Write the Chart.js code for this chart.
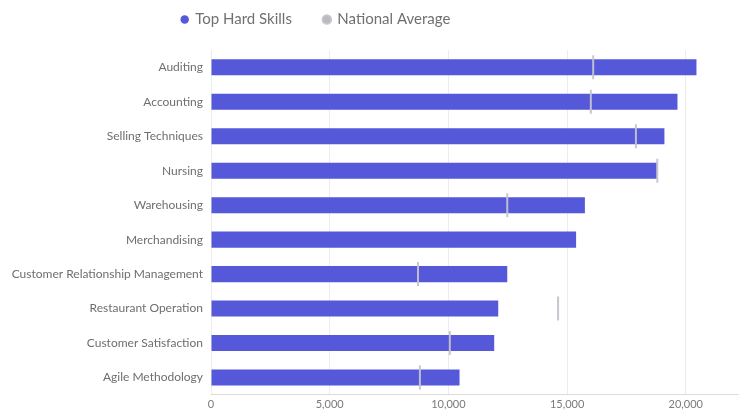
<!DOCTYPE html>
<html>
<head>
<meta charset="utf-8">
<script src="https://cdn.jsdelivr.net/npm/chart.js@4/dist/chart.umd.min.js"></script>
<style>
  html, body { margin: 0; padding: 0; background: #fff; overflow: hidden; }
  #wrap { position: absolute; left: -120px; top: 0; width: 872px; height: 416px; }
</style>
</head>
<body>
<div id="wrap"><canvas id="skillsChart"></canvas></div>
<script>
// Datos del gráfico
var skills = [
  "Auditing",
  "Accounting",
  "Selling Techniques",
  "Nursing",
  "Warehousing",
  "Merchandising",
  "Customer Relationship Management",
  "Restaurant Operation",
  "Customer Satisfaction",
  "Agile Methodology",
];
var topHardSkills = [20450, 19650, 19100, 18780, 15750, 15380, 12480, 12100, 11930, 10470];
var nationalAverage = [16100, 16000, 17900, 18800, 12480, null, 8720, 14620, 10060, 8800];
var xTicks = [0, 5000, 10000, 15000, 20000];

Chart.defaults.font.family = 'Lato, "Open Sans", sans-serif';
Chart.defaults.color = "#6e6e6e";

// espacio extra debajo de la leyenda
var legendSpacer = {
  id: "legendSpacer",
  beforeInit: function (chart) {
    var originalFit = chart.legend.fit;
    chart.legend.fit = function () {
      originalFit.bind(chart.legend)();
      this.height += 13;
    };
  },
};

var ctx = document.getElementById("skillsChart").getContext("2d");
var skillsChart = new Chart(ctx, {
  type: "bar",
  data: {
    labels: skills,
    datasets: [
      {
        label: "Top Hard Skills",
        data: topHardSkills,
        backgroundColor: "#5558d9",
        borderWidth: 0,
        barPercentage: 0.93,
        categoryPercentage: 0.5,
        order: 1,
      },
      {
        type: "line",
        label: "National Average",
        data: nationalAverage,
        showLine: false,
        backgroundColor: "#bbbbbb",
        borderColor: "rgba(196,196,206,0.95)",
        pointStyle: "line",
        rotation: 90,
        pointRadius: 12,
        pointHoverRadius: 12,
        pointBorderWidth: 2,
        order: 0,
      },
    ],
  },
  options: {
    indexAxis: "y",
    responsive: true,
    maintainAspectRatio: false,
    animation: false,
    layout: {
      padding: { left: 0, right: 0, top: -20, bottom: 2 },
    },
    scales: {
      x: {
        min: 0,
        max: 22200,
        afterBuildTicks: function (scale) {
          scale.ticks = xTicks.map(function (v) { return { value: v }; });
        },
        grid: {
          color: "#ececec",
          drawTicks: false,
        },
        border: { display: true, color: "#dcdcdc" },
        ticks: {
          padding: 3,
          font: { size: 11 },
          color: "#7a7a7a",
          callback: function (value) {
            return Number(value).toLocaleString("en-US");
          },
        },
      },
      y: {
        grid: { display: false, drawTicks: false },
        border: { display: false },
        afterFit: function (scale) {
          scale.width = 331;
        },
        ticks: {
          padding: 8,
          font: { size: 12 },
          color: "#6e6e6e",
        },
      },
    },
    plugins: {
      legend: {
        position: "top",
        labels: {
          usePointStyle: true,
          pointStyle: "circle",
          boxWidth: 6,
          boxHeight: 6,
          padding: 32,
          color: "#707070",
          font: { size: 15 },
          sort: function (a, b) {
            return a.datasetIndex - b.datasetIndex;
          },
        },
      },
      tooltip: { enabled: true },
    },
  },
  plugins: [legendSpacer],
});
</script>
</body>
</html>
